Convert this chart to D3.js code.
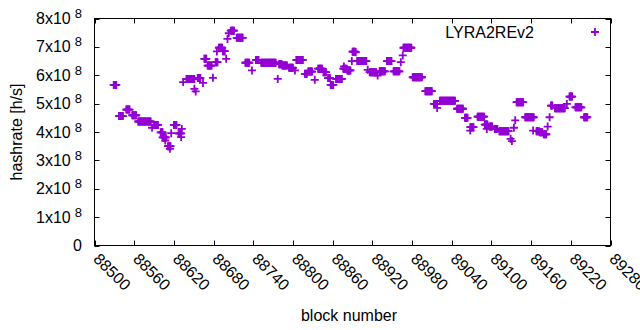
<!DOCTYPE html>
<html>
<head>
<meta charset="utf-8">
<script src="https://cdn.jsdelivr.net/npm/d3@7"></script>
<style>
  body { margin: 0; background: #fff; }
  text { font-family: "Liberation Sans", Arial, sans-serif; }
</style>
</head>
<body>
<div id="chart"></div>
<script>
// runs of consecutive blocks that share one hashrate value
const runStart = [88529, 88537, 88548, 88557, 88566, 88587, 88590, 88600, 88603, 88607,
  88611, 88614, 88616, 88620, 88627, 88631, 88632, 88634, 88639, 88651,
  88653, 88656, 88664, 88666, 88671, 88679, 88683, 88685, 88688, 88694,
  88699, 88701, 88703, 88706, 88715, 88728, 88738, 88744, 88752, 88777,
  88779, 88784, 88794, 88803, 88805, 88818, 88823, 88833, 88838, 88846,
  88853, 88857, 88865, 88876, 88877, 88882, 88889, 88890, 88895, 88897,
  88913, 88916, 88928, 88931, 88942, 88952, 88963, 88966, 88967, 88981,
  89000, 89013, 89018, 89022, 89048, 89060, 89068, 89068, 89079, 89090,
  89093, 89097, 89105, 89112, 89129, 89131, 89134, 89136, 89138, 89151,
  89163, 89168, 89173, 89179, 89185, 89188, 89190, 89196, 89214, 89218,
  89227, 89240];
const runLength = [5, 7, 6, 7, 20, 1, 7, 4, 6, 1,
  5, 1, 1, 5, 5, 1, 1, 1, 13, 1,
  1, 5, 1, 4, 7, 1, 4, 1, 6, 4,
  1, 1, 1, 6, 10, 7, 1, 5, 23, 1,
  5, 8, 7, 1, 11, 4, 7, 1, 7, 5,
  4, 5, 10, 6, 1, 6, 1, 5, 1, 15,
  1, 11, 1, 9, 8, 10, 1, 1, 13, 15,
  11, 6, 1, 24, 10, 5, 6, 1, 11, 5,
  1, 5, 5, 15, 1, 1, 1, 1, 11, 14,
  1, 5, 5, 5, 1, 1, 3, 16, 1, 5,
  10, 6];
const runHashrate = [5.66e8, 4.56e8, 4.79e8, 4.59e8, 4.37e8, 4.15e8, 4.25e8, 3.99e8, 3.81e8, 3.70e8,
  3.50e8, 3.41e8, 3.96e8, 4.25e8, 3.95e8, 3.82e8, 4.11e8, 5.76e8, 5.87e8, 5.52e8,
  5.43e8, 5.90e8, 5.73e8, 6.58e8, 6.34e8, 5.91e8, 6.46e8, 6.84e8, 6.97e8, 6.85e8,
  6.58e8, 7.28e8, 7.48e8, 7.57e8, 7.32e8, 6.44e8, 6.17e8, 6.54e8, 6.44e8, 5.87e8,
  6.39e8, 6.34e8, 6.26e8, 6.17e8, 6.54e8, 6.05e8, 6.13e8, 5.84e8, 6.23e8, 6.11e8,
  5.90e8, 5.66e8, 5.87e8, 6.23e8, 6.31e8, 6.17e8, 6.50e8, 6.83e8, 6.81e8, 6.50e8,
  6.19e8, 6.11e8, 5.99e8, 6.14e8, 6.50e8, 6.14e8, 6.46e8, 6.70e8, 6.97e8, 5.93e8,
  5.44e8, 4.99e8, 4.85e8, 5.10e8, 4.82e8, 4.50e8, 4.17e8, 4.05e8, 4.54e8, 4.26e8,
  4.11e8, 4.19e8, 4.11e8, 4.03e8, 3.76e8, 3.68e8, 4.15e8, 4.41e8, 5.05e8, 4.52e8,
  4.05e8, 4.03e8, 3.99e8, 3.92e8, 4.19e8, 4.52e8, 4.93e8, 4.84e8, 4.99e8, 5.25e8,
  4.87e8, 4.52e8];

const xTicks = [88500, 88560, 88620, 88680, 88740, 88800, 88860, 88920, 88980, 89040, 89100, 89160, 89220, 89280];
const yTicks = [0, 1e8, 2e8, 3e8, 4e8, 5e8, 6e8, 7e8, 8e8];
const seriesName = "LYRA2REv2";

const W = 640, H = 330;
const plot = {left: 94.5, right: 610.5, top: 18.5, bottom: 245.5};
const purple = "#9400d3";
const fontSize = "16px";

var svg = d3.select("#chart")
    .append("svg")
        .attr("width", W)
        .attr("height", H);

var xScale = d3.scaleLinear()
    .domain([xTicks[0], xTicks[xTicks.length - 1]])
    .range([plot.left, plot.right]);
var yScale = d3.scaleLinear()
    .domain([0, 8e8])
    .range([plot.bottom, plot.top]);

// expand the runs into one point per block
var dataset = [];
runStart.forEach(function(s, i) {
    for (var k = 0; k < runLength[i]; k++) {
        dataset.push({block: s + k, hashrate: runHashrate[i]});
    }
});

// ticks on all four sides, pointing inward
const tickLen = 5;
var ticks = svg.append("g").attr("stroke", "#000").attr("stroke-width", 1);
xTicks.forEach(function(t) {
    var x = Math.round(xScale(t)) + 0.5;
    ticks.append("line").attr("x1", x).attr("x2", x)
        .attr("y1", plot.bottom).attr("y2", plot.bottom - tickLen);
    ticks.append("line").attr("x1", x).attr("x2", x)
        .attr("y1", plot.top).attr("y2", plot.top + tickLen);
});
yTicks.forEach(function(t) {
    var y = Math.round(yScale(t)) + 0.5;
    ticks.append("line").attr("x1", plot.left).attr("x2", plot.left + tickLen)
        .attr("y1", y).attr("y2", y);
    ticks.append("line").attr("x1", plot.right).attr("x2", plot.right - tickLen)
        .attr("y1", y).attr("y2", y);
});

// frame
svg.append("rect")
    .attr("x", plot.left)
    .attr("y", plot.top)
    .attr("width", plot.right - plot.left)
    .attr("height", plot.bottom - plot.top)
    .attr("fill", "none")
    .attr("stroke", "#000")
    .attr("stroke-width", 1);

// y tick labels  (N x10^8)
yTicks.forEach(function(t) {
    var lbl = svg.append("text")
        .attr("x", 82)
        .attr("y", yScale(t) + 5.5)
        .attr("text-anchor", "end")
        .style("font-size", fontSize)
        .attr("fill", "#000");
    if (t === 0) {
        lbl.text("0");
    } else {
        lbl.append("tspan").text((t / 1e8) + "x10");
        lbl.append("tspan")
            .attr("dx", 4)
            .attr("dy", -6)
            .style("font-size", "13px")
            .text("8");
    }
});

// x tick labels, rotated
xTicks.forEach(function(t) {
    svg.append("text")
        .attr("transform", "translate(" + (xScale(t) + 2) + "," + 256 + ") rotate(45)")
        .attr("dy", "0.35em")
        .attr("text-anchor", "start")
        .style("font-size", fontSize)
        .attr("fill", "#000")
        .text(t);
});

// axis titles
svg.append("text")
    .attr("transform", "translate(22," + ((plot.top + plot.bottom) / 2) + ") rotate(-90)")
    .attr("text-anchor", "middle")
    .style("font-size", fontSize)
    .text("hashrate [h/s]");

svg.append("text")
    .attr("x", 349)
    .attr("y", 321)
    .attr("text-anchor", "middle")
    .style("font-size", fontSize)
    .text("block number");

// points as plus marks
const plus = "M-4,0H4M0,-4V4";
svg.append("g")
    .selectAll("path")
    .data(dataset)
    .enter().append("path")
        .attr("d", plus)
        .attr("transform", function(d) { return "translate(" + xScale(d.block) + "," + yScale(d.hashrate) + ")"; })
        .attr("fill", "none")
        .attr("stroke", purple)
        .attr("stroke-width", 1.8);

// legend
svg.append("text")
    .attr("x", 534)
    .attr("y", 38)
    .attr("text-anchor", "end")
    .style("font-size", fontSize)
    .text(seriesName);
svg.append("path")
    .attr("d", plus)
    .attr("transform", "translate(595,32)")
    .attr("fill", "none")
    .attr("stroke", purple)
    .attr("stroke-width", 1.8);
</script>
</body>
</html>
